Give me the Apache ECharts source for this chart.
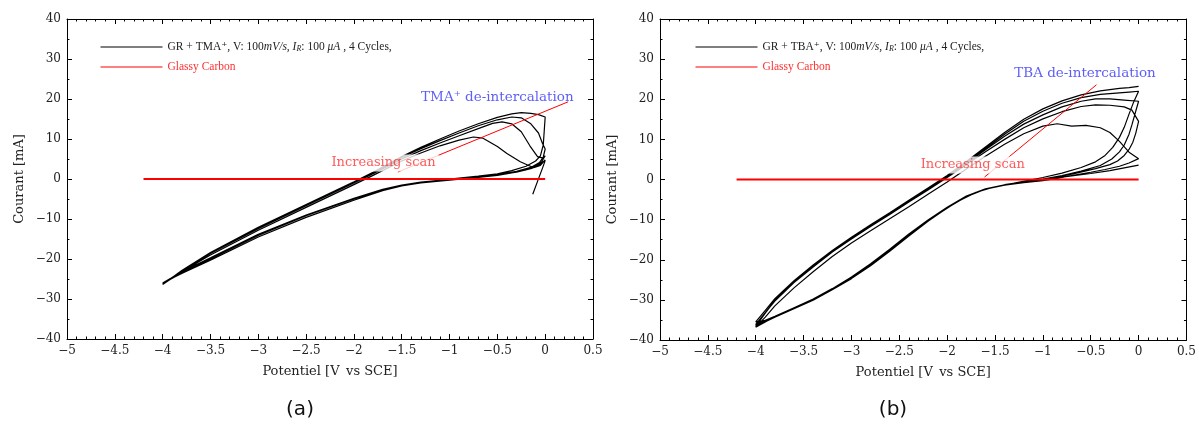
<!DOCTYPE html>
<html>
<head>
<meta charset="utf-8">
<script src="https://cdn.jsdelivr.net/npm/echarts@6/dist/echarts.min.js"></script>
<style>
html,body{margin:0;padding:0;background:#fff;}
#c{width:1199px;height:427px;}
</style>
</head>
<body>
<div id="c"></div>
<script>
// ---------- tick labels ----------
const xTicks = [-5,-4.5,-4,-3.5,-3,-2.5,-2,-1.5,-1,-0.5,0,0.5];
const yTicks = [-40,-30,-20,-10,0,10,20,30,40];

// ---------- (a) GR + TMA+ : potential [V], current [mA] ----------
const tmaStart = [[-0.13,-3.8],[-0.08,-0.6],[-0.03,2.6],[0,4.6]];
const tmaCath1 = [[0,4.6],[-0.1,3.2],[-0.2,2.3],[-0.35,1.5],[-0.5,0.9],[-0.7,0.4],[-1.0,-0.3],[-1.3,-1.0],[-1.5,-1.7],[-1.7,-2.9],[-2.0,-5.3],[-2.5,-9.6],[-3.0,-14.5],[-3.5,-20.3],[-3.8,-23.6],[-4.0,-26.0]];
const tmaAnod1 = [[-4.0,-26.0],[-3.8,-23.2],[-3.5,-19.0],[-3.0,-12.8],[-2.5,-7.1],[-2.0,-1.4],[-1.8,0.9],[-1.5,4.5],[-1.3,6.5],[-1.1,8.3],[-0.9,9.7],[-0.75,10.5],[-0.65,10.2],[-0.5,8.1],[-0.4,6.4],[-0.26,4.3],[-0.12,2.8],[-0.05,3.4],[0,4.8]];
const tmaCath2 = [[0,4.8],[-0.05,3.6],[-0.15,2.6],[-0.3,1.7],[-0.5,1.0],[-0.7,0.5],[-1.0,-0.2],[-1.3,-0.9],[-1.5,-1.6],[-1.7,-2.7],[-2.0,-5.0],[-2.5,-9.2],[-3.0,-14.1],[-3.5,-20.0],[-3.8,-23.5],[-4.0,-26.2]];
const tmaAnod2 = [[-4.0,-26.2],[-3.8,-23.0],[-3.5,-18.6],[-3.0,-12.4],[-2.5,-6.7],[-2.0,-1.0],[-1.8,1.3],[-1.5,5.0],[-1.3,7.1],[-1.1,9.0],[-0.9,10.8],[-0.7,12.6],[-0.55,13.9],[-0.45,14.3],[-0.35,13.8],[-0.25,11.8],[-0.16,8.3],[-0.08,5.6],[-0.02,5.2],[0,5.8]];
const tmaCath3 = [[0,5.8],[-0.04,4.2],[-0.12,3.0],[-0.3,1.8],[-0.5,1.1],[-0.7,0.5],[-1.0,-0.2],[-1.3,-0.9],[-1.5,-1.6],[-1.7,-2.6],[-2.0,-4.9],[-2.5,-9.1],[-3.0,-13.9],[-3.5,-19.8],[-3.8,-23.3],[-4.0,-26.3]];
const tmaAnod3 = [[-4.0,-26.3],[-3.8,-23.0],[-3.5,-18.5],[-3.0,-12.2],[-2.5,-6.5],[-2.0,-0.8],[-1.8,1.6],[-1.5,5.4],[-1.3,7.6],[-1.1,9.6],[-0.9,11.5],[-0.7,13.3],[-0.5,14.8],[-0.35,15.5],[-0.25,15.3],[-0.15,13.8],[-0.07,11.5],[-0.03,9.0],[0,7.5]];
const tmaCath4 = [[0,7.5],[-0.02,5.5],[-0.06,4.1],[-0.15,2.9],[-0.3,1.9],[-0.5,1.1],[-0.7,0.6],[-1.0,-0.1],[-1.3,-0.8],[-1.5,-1.5],[-1.7,-2.6],[-2.0,-4.8],[-2.5,-9.0],[-3.0,-13.8],[-3.5,-19.7],[-3.8,-23.2],[-4.0,-26.4]];
const tmaAnod4 = [[-4.0,-26.4],[-3.8,-22.9],[-3.5,-18.4],[-3.0,-12.1],[-2.5,-6.4],[-2.0,-0.7],[-1.8,1.7],[-1.5,5.6],[-1.3,7.9],[-1.1,10.0],[-0.9,12.0],[-0.7,13.8],[-0.5,15.4],[-0.35,16.3],[-0.25,16.6],[-0.15,16.4],[-0.07,16.1],[0,15.5]];
const tmaEnd = [[0,15.5],[-0.01,12.0],[-0.02,8.5],[-0.05,5.8],[-0.1,4.5],[-0.2,3.2],[-0.35,2.1],[-0.5,1.3],[-0.7,0.7],[-1.0,0.0]];

// ---------- (b) GR + TBA+ ----------
const tbaStart = [[0,3.6],[-0.15,2.9],[-0.3,2.2],[-0.5,1.5],[-0.8,0.6],[-1.0,0.0],[-1.2,-0.7],[-1.4,-1.4],[-1.6,-2.4],[-1.8,-4.2],[-2.0,-7.0],[-2.2,-10.1],[-2.4,-13.7],[-2.6,-17.4],[-2.8,-21.0],[-3.0,-24.3],[-3.2,-27.2],[-3.4,-29.8],[-3.6,-32.0],[-3.8,-34.2],[-4.0,-36.8]];
const tbaAnod1 = [[-4.0,-36.8],[-3.9,-34.3],[-3.8,-31.5],[-3.6,-27.0],[-3.4,-23.0],[-3.2,-19.2],[-3.0,-15.8],[-2.8,-12.8],[-2.6,-9.8],[-2.4,-6.8],[-2.2,-3.7],[-2.0,-0.6],[-1.8,2.6],[-1.6,5.8],[-1.4,8.8],[-1.2,11.4],[-1.0,13.3],[-0.85,13.9],[-0.7,13.3],[-0.55,13.5],[-0.4,12.9],[-0.3,11.7],[-0.2,9.5],[-0.1,6.8],[0,5.2]];
const tbaCath1 = [[0,5.2],[-0.1,4.1],[-0.2,3.3],[-0.35,2.5],[-0.5,1.8],[-0.7,1.0],[-0.85,0.3],[-1.0,-0.3],[-1.2,-0.8],[-1.4,-1.4],[-1.6,-2.4],[-1.8,-4.3],[-2.0,-7.1],[-2.2,-10.3],[-2.4,-13.9],[-2.6,-17.7],[-2.8,-21.3],[-3.0,-24.5],[-3.2,-27.3],[-3.4,-29.9],[-3.6,-32.0],[-3.8,-34.1],[-4.0,-36.1]];
const tbaAnod2 = [[-4.0,-36.1],[-3.9,-33.2],[-3.8,-30.3],[-3.6,-25.7],[-3.4,-21.8],[-3.2,-18.1],[-3.0,-14.8],[-2.8,-11.7],[-2.6,-8.7],[-2.4,-5.6],[-2.2,-2.6],[-2.0,0.5],[-1.8,3.7],[-1.6,6.9],[-1.4,10.0],[-1.2,12.9],[-1.0,15.1],[-0.8,16.9],[-0.6,18.2],[-0.45,18.6],[-0.3,18.5],[-0.15,18.1],[-0.07,17.3],[0,14.5]];
const tbaCath2 = [[0,14.5],[-0.03,11.5],[-0.06,9.3],[-0.1,7.5],[-0.15,6.0],[-0.22,4.6],[-0.3,3.7],[-0.45,2.7],[-0.65,1.6],[-0.85,0.6],[-1.0,-0.1],[-1.2,-0.7],[-1.4,-1.3],[-1.6,-2.3],[-1.8,-4.1],[-2.0,-6.9],[-2.2,-10.1],[-2.4,-13.6],[-2.6,-17.4],[-2.8,-21.0],[-3.0,-24.3],[-3.2,-27.2],[-3.4,-29.8],[-3.6,-32.1],[-3.8,-34.3],[-4.0,-36.6]];
const tbaAnod3 = [[-4.0,-36.6],[-3.9,-33.3],[-3.8,-30.1],[-3.6,-25.5],[-3.4,-21.6],[-3.2,-17.9],[-3.0,-14.6],[-2.8,-11.5],[-2.6,-8.5],[-2.4,-5.4],[-2.2,-2.4],[-2.0,0.7],[-1.8,4.0],[-1.6,7.4],[-1.4,10.8],[-1.2,13.8],[-1.0,16.1],[-0.8,18.1],[-0.6,19.5],[-0.45,20.1],[-0.3,20.1],[-0.15,19.8],[0,19.5]];
const tbaCath3 = [[0,19.5],[-0.03,17.0],[-0.07,13.6],[-0.1,11.3],[-0.15,8.6],[-0.2,6.9],[-0.28,5.1],[-0.4,3.5],[-0.6,2.1],[-0.8,1.0],[-1.0,0.1],[-1.2,-0.6],[-1.4,-1.3],[-1.6,-2.4],[-1.8,-4.3],[-2.0,-7.1],[-2.2,-10.4],[-2.4,-14.1],[-2.6,-17.9],[-2.8,-21.5],[-3.0,-24.7],[-3.2,-27.5],[-3.4,-30.1],[-3.6,-32.2],[-3.8,-34.3],[-4.0,-36.3]];
const tbaAnod4 = [[-4.0,-36.3],[-3.9,-33.2],[-3.8,-30.1],[-3.6,-25.5],[-3.4,-21.6],[-3.2,-17.9],[-3.0,-14.6],[-2.8,-11.5],[-2.6,-8.5],[-2.4,-5.4],[-2.2,-2.3],[-2.0,0.8],[-1.8,4.2],[-1.6,7.7],[-1.4,11.3],[-1.2,14.5],[-1.0,17.0],[-0.8,19.0],[-0.6,20.4],[-0.4,21.2],[-0.2,21.6],[-0.1,21.8],[0,22.0]];
const tbaCath4 = [[0,22.0],[-0.05,19.4],[-0.1,16.3],[-0.15,13.0],[-0.2,10.5],[-0.27,8.0],[-0.35,6.0],[-0.45,4.4],[-0.6,3.0],[-0.8,1.6],[-1.0,0.5],[-1.15,-0.2],[-1.3,-0.9],[-1.5,-1.8],[-1.7,-3.2],[-1.9,-5.6],[-2.1,-8.7],[-2.3,-12.1],[-2.5,-15.9],[-2.7,-19.6],[-2.9,-22.9],[-3.1,-26.0],[-3.3,-28.8],[-3.5,-31.1],[-3.7,-33.1],[-3.9,-35.1],[-4.0,-35.5]];
const tbaAnod5 = [[-4.0,-35.5],[-3.9,-32.6],[-3.8,-29.7],[-3.6,-25.2],[-3.4,-21.3],[-3.2,-17.7],[-3.0,-14.4],[-2.8,-11.3],[-2.6,-8.3],[-2.4,-5.2],[-2.2,-2.1],[-2.0,1.0],[-1.8,4.5],[-1.6,8.1],[-1.4,11.7],[-1.2,15.0],[-1.0,17.6],[-0.8,19.6],[-0.6,21.1],[-0.4,22.1],[-0.2,22.7],[-0.1,22.9],[0,23.2]];

// ---------- glassy carbon reference (both panels) ----------
const gcLine = [[-4.2,0],[0,0]];

// ---------- annotations (data coordinates) ----------
const arrowA = [[-1.54,1.75],[0.24,19.3]];
const arrowB = [[-1.61,0.6],[-0.44,23.6]];
const labelScanA = [-1.69,4.0];
const labelScanB = [-1.733,3.6];
const labelDeA = [-0.5,20.5];
const labelDeB = [-0.56,26.5];

const tmaTrace = [].concat(tmaStart,tmaCath1,tmaAnod1,tmaCath2,tmaAnod2,tmaCath3,tmaAnod3,tmaCath4,tmaAnod4,tmaEnd);
const tbaTrace = [].concat(tbaStart,tbaAnod1,tbaCath1,tbaAnod2,tbaCath2,tbaAnod3,tbaCath3,tbaAnod4,tbaCath4,tbaAnod5);

const SERIF = '"DejaVu Serif", "Liberation Serif", serif';
const LSERIF = '"Liberation Serif", "DejaVu Serif", serif';
const fmt = v => String(v).replace('-', '\u2212');

function xAx(grid, pos){
  const main = pos === 'bottom';
  return {
    type:'value', gridIndex:grid, position:pos, min:-5, max:0.5, interval:0.5,
    axisLine:{onZero:false, lineStyle:{color:'#000', width:1}},
    axisTick:{inside:true, length:5, lineStyle:{color:'#000'}},
    minorTick:{show:true, splitNumber:5, length:2.5, lineStyle:{color:'#000'}},
    splitLine:{show:false}, minorSplitLine:{show:false},
    axisLabel:{show:main, margin:6, fontFamily:SERIF, fontSize:12, color:'#222',
      formatter: v => fmt(xTicks.find(t => Math.abs(t - v) < 1e-9) ?? v)},
    name: main ? 'Potentiel [V\u2002vs SCE]' : '', nameLocation:'middle', nameGap:26,
    nameTextStyle:{fontFamily:SERIF, fontSize:13, color:'#222'}
  };
}
function yAx(grid, pos){
  const main = pos === 'left';
  return {
    type:'value', gridIndex:grid, position:pos, min:-40, max:40, interval:10,
    axisLine:{onZero:false, lineStyle:{color:'#000', width:1}},
    axisTick:{inside:true, length:5, lineStyle:{color:'#000'}},
    minorTick:{show:true, splitNumber:2, length:2.5, lineStyle:{color:'#000'}},
    splitLine:{show:false}, minorSplitLine:{show:false},
    axisLabel:{show:main, margin:6, fontFamily:SERIF, fontSize:12, color:'#222',
      formatter: v => fmt(yTicks.find(t => Math.abs(t - v) < 1e-9) ?? v)},
    name: main ? 'Courant [mA]' : '', nameLocation:'middle', nameGap:41,
    nameTextStyle:{fontFamily:SERIF, fontSize:13, color:'#222'}
  };
}

const legendRich = {
  it:{fontStyle:'italic', fontFamily:LSERIF, fontSize:11.5, color:'#222'},
  sub:{fontStyle:'italic', fontFamily:LSERIF, fontSize:8, color:'#222', verticalAlign:'bottom'},
  n:{fontFamily:LSERIF, fontSize:11.5, color:'#222'},
  r:{fontFamily:LSERIF, fontSize:11.5, color:'#ff3030'}
};
const legendNames = {
  tma:'{n|GR + TMA\u207A, V: 100}{it|mV/s}{n|, }{it|I}{sub|R}{n|: 100 }{it|\u03BCA}{n| , 4 Cycles,}',
  tba:'{n|GR + TBA\u207A, V: 100}{it|mV/s}{n|, }{it|I}{sub|R}{n|: 100 }{it|\u03BCA}{n| , 4 Cycles,}',
  gcA:'{r|Glassy Carbon}', gcB:'{r|Glassy Carbon}'
};
function legend(left, names){
  return {orient:'vertical', left:left, top:41, padding:0, itemWidth:62, itemHeight:10, itemGap:8,
    itemStyle:{opacity:0}, lineStyle:{width:1},
    data:names, formatter:n => legendNames[n],
    textStyle:{fontFamily:LSERIF, fontSize:11.5, color:'#222', rich:legendRich}};
}

function arrowMark(seg){
  return {silent:true, symbol:['none','arrow'], symbolSize:[0,11],
    lineStyle:{color:'#ff0000', width:1, type:'solid'}, label:{show:false},
    emphasis:{disabled:true},
    data:[[{coord:seg[0]},{coord:seg[1]}]]};
}
function textLabel(gi, pt, txt, color, z, size){
  return {type:'scatter', xAxisIndex:gi, yAxisIndex:gi, z:z, symbolSize:0, silent:true,
    itemStyle:{color:'transparent'}, data:[pt],
    label:{show:true, position:'inside', formatter:txt, color:color, fontFamily:SERIF,
      fontSize:size, backgroundColor:'#fff', padding:[2,3,2,3]}};
}

const chart = echarts.init(document.getElementById('c'), null, {renderer:'canvas'});
chart.setOption({
  animation:false,
  backgroundColor:'#fff',
  grid:[
    {left:67, top:19, width:526, height:320},
    {left:660, top:19, width:527, height:321}
  ],
  xAxis:[xAx(0,'bottom'), xAx(1,'bottom'), xAx(0,'top'), xAx(1,'top')],
  yAxis:[yAx(0,'left'), yAx(1,'left'), yAx(0,'right'), yAx(1,'right')],
  legend:[legend(100,['tma','gcA']), legend(695,['tba','gcB'])],
  series:[
    {name:'tma', type:'line', xAxisIndex:0, yAxisIndex:0, data:tmaTrace, symbol:'none', z:3,
      lineStyle:{color:'#000', width:1.2}, itemStyle:{color:'#000'}},
    {name:'gcA', type:'line', xAxisIndex:0, yAxisIndex:0, data:gcLine, symbol:'none', z:4,
      lineStyle:{color:'#ff0000', width:2}, itemStyle:{color:'#ff0000'}, markLine:arrowMark(arrowA)},
    {name:'tba', type:'line', xAxisIndex:1, yAxisIndex:1, data:tbaTrace, symbol:'none', z:3,
      lineStyle:{color:'#000', width:1.2}, itemStyle:{color:'#000'}},
    {name:'gcB', type:'line', xAxisIndex:1, yAxisIndex:1, data:gcLine, symbol:'none', z:4,
      lineStyle:{color:'#ff0000', width:2}, itemStyle:{color:'#ff0000'}, markLine:arrowMark(arrowB)},
    textLabel(0, labelScanA, 'Increasing scan', '#ff3030', 10, 13),
    textLabel(1, labelScanB, 'Increasing scan', '#ff3030', 10, 13),
    textLabel(0, labelDeA, 'TMA\u207A de-intercalation', '#3535f5', 1, 13.5),
    textLabel(1, labelDeB, 'TBA de-intercalation', '#3535f5', 1, 13.5)
  ],
  graphic:[
    {type:'text', x:300, y:410, style:{text:'(a)', font:'20px "DejaVu Sans", sans-serif', fill:'#111', textAlign:'center', textVerticalAlign:'middle'}},
    {type:'text', x:893, y:410, style:{text:'(b)', font:'20px "DejaVu Sans", sans-serif', fill:'#111', textAlign:'center', textVerticalAlign:'middle'}}
  ]
});
</script>
</body>
</html>
